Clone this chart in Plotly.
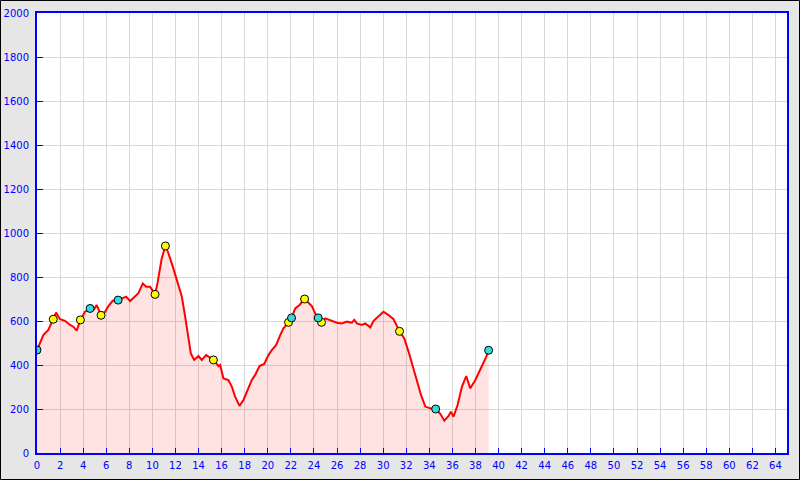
import plotly.graph_objects as go

# Elevation profile (distance km, elevation m)
dist = [0, 0.55, 0.98, 1.41, 1.65, 2.0, 2.43, 2.86, 3.15, 3.44, 3.76, 4.16, 4.6, 4.94, 5.17, 5.55,
        5.9, 6.19, 6.56, 7.03, 7.34, 7.72, 8.07, 8.5, 8.79, 9.17, 9.45, 9.8, 10.23, 10.44, 10.81,
        11.13, 11.39, 11.77, 12.17, 12.55, 12.84, 13.12, 13.33, 13.62, 13.99, 14.28, 14.66, 15.29,
        15.73, 15.87, 16.16, 16.59, 16.88, 17.17, 17.55, 17.89, 18.19, 18.62, 18.91, 19.28, 19.69,
        20.06, 20.35, 20.73, 21.08, 21.36, 21.8, 22.06, 22.38, 22.75, 23.19, 23.53, 23.82, 24.11,
        24.37, 24.66, 24.98, 25.56, 25.99, 26.42, 26.86, 27.29, 27.49, 27.72, 28.16, 28.45, 28.88,
        29.17, 29.6, 30.03, 30.47, 30.9, 31.42, 31.83, 32.2, 32.58, 32.93, 33.28, 33.65, 34.09,
        34.55, 34.95, 35.3, 35.67, 35.87, 36.1, 36.45, 36.83, 37.2, 37.55, 37.99, 38.42, 38.77,
        38.94, 39.14]
elev = [468, 536, 559, 608, 638, 608, 601, 582, 574, 556, 605, 642, 657, 653, 673, 626,
        642, 668, 692, 695, 703, 711, 691, 711, 726, 771, 756, 756, 721, 771, 885,
        941, 908, 847, 771, 711, 620, 514, 453, 423, 441, 423, 445, 423,
        395, 400, 339, 332, 302, 256, 214, 241, 279, 332, 355, 395, 405,
        445, 468, 491, 536, 567, 594, 614, 657, 673, 700, 680, 668, 635,
        614, 594, 612, 601, 592, 589, 597, 592, 605, 589, 582, 589, 571,
        601, 620, 642, 627, 608, 553, 521, 461, 392, 324, 264, 211, 203,
        200, 178, 147, 168, 188, 165, 218, 302, 350, 294, 332, 377, 415,
        438, 467]

# Waypoints
yellow_x = [1.41, 3.76, 5.55, 10.23, 11.13, 15.29, 21.8, 23.19, 24.66, 31.42]
yellow_y = [608, 605, 626, 721, 941, 423, 594, 700, 594, 553]
cyan_x = [0, 4.6, 7.03, 22.06, 24.37, 34.55, 39.14]
cyan_y = [468, 657, 695, 614, 614, 200, 467]

x_ticks = list(range(0, 65, 2))
y_ticks = list(range(0, 2001, 200))

fig = go.Figure()
fig.add_trace(go.Scatter(x=dist, y=elev, mode="lines", fill="tozeroy",
                         fillcolor="rgba(255,0,0,0.11)",
                         line=dict(color="#ff0000", width=2), hoverinfo="skip"))
fig.add_trace(go.Scatter(x=yellow_x, y=yellow_y, mode="markers",
                         marker=dict(color="#ffff00", size=8, line=dict(color="#000000", width=1))))
fig.add_trace(go.Scatter(x=cyan_x, y=cyan_y, mode="markers",
                         marker=dict(color="#33dddd", size=8, line=dict(color="#000000", width=1))))

L, R, T, B = 37, 13, 13, 27
W, H = 800, 480
pw, ph = W - L - R, H - T - B

fig.update_layout(
    width=W, height=H,
    margin=dict(l=L, r=R, t=T, b=B, pad=0, autoexpand=False),
    paper_bgcolor="#e6e6e6", plot_bgcolor="#ffffff",
    showlegend=False,
    font=dict(family="DejaVu Sans", size=10, color="#0000ff"),
    xaxis=dict(range=[0, 65], tickvals=x_ticks, ticktext=[str(v) for v in x_ticks],
               showgrid=True, gridcolor="#d8d8d8", gridwidth=1,
               showline=True, linecolor="#0000ff", linewidth=2, mirror=True,
               ticks="inside", ticklen=5, tickcolor="#0000ff", tickwidth=1,
               ticklabelstandoff=2,
               zeroline=False, fixedrange=True, automargin=False),
    yaxis=dict(range=[0, 2000], tickvals=y_ticks, ticktext=[str(v) for v in y_ticks],
               showgrid=True, gridcolor="#d8d8d8", gridwidth=1,
               showline=True, linecolor="#0000ff", linewidth=2, mirror=True,
               ticks="inside", ticklen=6, tickcolor="#0000ff", tickwidth=1,
               ticklabelstandoff=4,
               zeroline=False, fixedrange=True, automargin=False),
    shapes=[dict(type="rect", xref="paper", yref="paper",
                 x0=-(L - 0.5) / pw, x1=1 + (R - 0.5) / pw,
                 y0=-(B - 0.5) / ph, y1=1 + (T - 0.5) / ph,
                 line=dict(color="#000000", width=1), layer="above")],
)

fig.write_html("out.html", config={"displayModeBar": False},
               post_script="document.body.style.margin='0';document.body.style.overflow='hidden';")
